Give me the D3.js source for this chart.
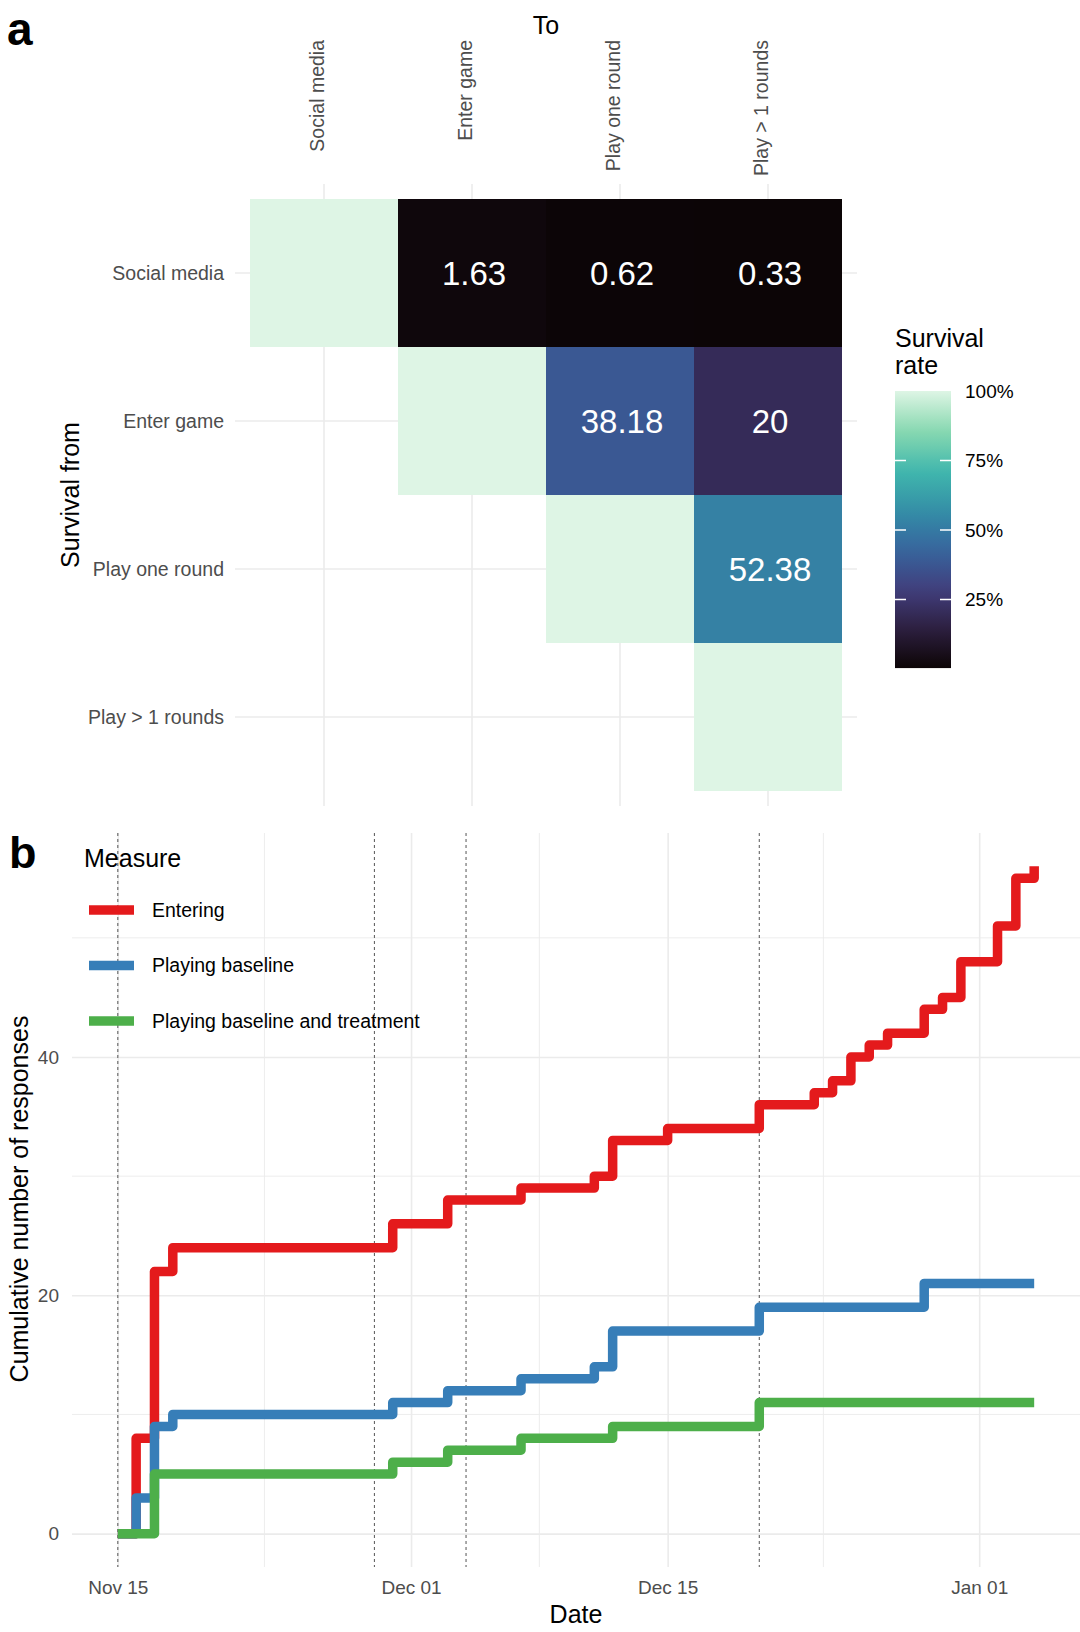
<!DOCTYPE html>
<html>
<head>
<meta charset="utf-8">
<script src="https://cdn.jsdelivr.net/npm/d3@7"></script>
<style>
   body { margin: 0; background: #fff; }
   text { font-family: "Liberation Sans", Arial, sans-serif; }
</style>
</head>
<body>
<div id="chart"></div>
<script>
// Panel a: survival between funnel stages
const stages = ["Social media", "Enter game", "Play one round", "Play > 1 rounds"];
const tileFrom = ["Social media", "Social media", "Social media", "Social media",
   "Enter game", "Enter game", "Enter game",
   "Play one round", "Play one round",
   "Play > 1 rounds"];
const tileTo = ["Social media", "Enter game", "Play one round", "Play > 1 rounds",
   "Enter game", "Play one round", "Play > 1 rounds",
   "Play one round", "Play > 1 rounds",
   "Play > 1 rounds"];
const tileRate = [100, 1.63, 0.62, 0.33, 100, 38.18, 20, 100, 52.38, 100];
const legendTicks = [25, 50, 75, 100];

// mako palette stops
const makoStops = [0, 14, 28, 43, 57, 71, 86, 100];
const makoColors = ["#0B0405", "#2C1E3D", "#413D7B", "#37659E", "#348FA7", "#40B7AD", "#8AD9B1", "#DEF5E5"];

// Panel b: cumulative responses
const stepDates = ["2019-11-15", "2019-11-16", "2019-11-17", "2019-11-18", "2019-11-30", "2019-12-03",
   "2019-12-07", "2019-12-11", "2019-12-12", "2019-12-15", "2019-12-20", "2019-12-23", "2019-12-24",
   "2019-12-25", "2019-12-26", "2019-12-27", "2019-12-29", "2019-12-30", "2019-12-31", "2020-01-02",
   "2020-01-03", "2020-01-04"];
const entering = [0, 8, 22, 24, 26, 28, 29, 30, 33, 34, 36, 37, 38, 40, 41, 42, 44, 45, 48, 51, 55, 56];
const playingBaseline = [0, 3, 9, 10, 11, 12, 13, 14, 17, 17, 19, 19, 19, 19, 19, 19, 21, 21, 21, 21, 21, 21];
const playingBoth = [0, 0, 5, 5, 6, 7, 8, 8, 9, 9, 11, 11, 11, 11, 11, 11, 11, 11, 11, 11, 11, 11];
const measureNames = ["Entering", "Playing baseline", "Playing baseline and treatment"];
const measureColors = ["#E41A1C", "#377EB8", "#4DAF4A"];
const phaseDates = ["2019-11-15", "2019-11-29", "2019-12-04", "2019-12-20"];
const xTickDates = ["2019-11-15", "2019-12-01", "2019-12-15", "2020-01-01"];
const xMinorDates = ["2019-11-23", "2019-12-08", "2019-12-23 12"];
const yTicks = [0, 20, 40];
const yMinor = [10, 30, 50];

const svg = d3.select("#chart")
   .append("svg")
   .attr("width", 1080)
   .attr("height", 1632);

const grid = "#EBEBEB";
const tickGrey = "#4D4D4D";

// ---------- panel a ----------
const hx = d3.scaleBand().domain(stages).range([250, 842]);
const hy = d3.scaleBand().domain(stages).range([199, 791]);
const color = d3.scaleLinear().domain(makoStops).range(makoColors);

svg.selectAll(".hgrid-v")
   .data(stages)
   .enter()
   .append("line")
   .attr("x1", d => hx(d) + hx.bandwidth() / 2)
   .attr("x2", d => hx(d) + hx.bandwidth() / 2)
   .attr("y1", 184)
   .attr("y2", 806)
   .attr("stroke", grid)
   .attr("stroke-width", 1.6);

svg.selectAll(".hgrid-h")
   .data(stages)
   .enter()
   .append("line")
   .attr("y1", d => hy(d) + hy.bandwidth() / 2)
   .attr("y2", d => hy(d) + hy.bandwidth() / 2)
   .attr("x1", 235)
   .attr("x2", 857)
   .attr("stroke", grid)
   .attr("stroke-width", 1.6);

const tiles = tileRate.map((v, i) => ({ from: tileFrom[i], to: tileTo[i], v }));

svg.selectAll(".tile")
   .data(tiles)
   .enter()
   .append("rect")
   .attr("x", d => hx(d.to))
   .attr("y", d => hy(d.from))
   .attr("width", hx.bandwidth())
   .attr("height", hy.bandwidth())
   .attr("fill", d => color(d.v));

svg.selectAll(".tile-label")
   .data(tiles.filter(d => d.v < 100))
   .enter()
   .append("text")
   .attr("x", d => hx(d.to) + hx.bandwidth() / 2 + 2)
   .attr("y", d => hy(d.from) + hy.bandwidth() / 2)
   .attr("dy", "0.36em")
   .attr("text-anchor", "middle")
   .attr("fill", "#fff")
   .attr("font-size", 33)
   .text(d => d.v);

// column labels on top, rotated
svg.selectAll(".col-label")
   .data(stages)
   .enter()
   .append("text")
   .attr("transform", d => `translate(${hx(d) + hx.bandwidth() / 2},40) rotate(-90)`)
   .attr("text-anchor", "end")
   .attr("fill", tickGrey)
   .attr("font-size", 19.5)
   .text(d => d);

svg.selectAll(".row-label")
   .data(stages)
   .enter()
   .append("text")
   .attr("x", 224)
   .attr("y", d => hy(d) + hy.bandwidth() / 2)
   .attr("dy", "0.35em")
   .attr("text-anchor", "end")
   .attr("fill", tickGrey)
   .attr("font-size", 19.5)
   .text(d => d);

svg.append("text")
   .attr("x", 546)
   .attr("y", 34)
   .attr("text-anchor", "middle")
   .attr("font-size", 25)
   .text("To");

svg.append("text")
   .attr("transform", "translate(79,495) rotate(-90)")
   .attr("text-anchor", "middle")
   .attr("font-size", 25)
   .text("Survival from");

svg.append("text")
   .attr("x", 7)
   .attr("y", 45)
   .attr("font-size", 46)
   .attr("font-weight", "bold")
   .text("a");

// colour bar legend
const ly = d3.scaleLinear().domain([0, 100]).range([669, 391]);
const grad = svg.append("defs")
   .append("linearGradient")
   .attr("id", "mako")
   .attr("x1", 0).attr("x2", 0)
   .attr("y1", 1).attr("y2", 0);
d3.range(0, 101, 5).forEach(p => {
   grad.append("stop")
      .attr("offset", p / 100)
      .attr("stop-color", color(0.33 + (100 - 0.33) * p / 100));
});

svg.append("text")
   .attr("x", 895)
   .attr("font-size", 25)
   .selectAll("tspan")
   .data(["Survival", "rate"])
   .enter()
   .append("tspan")
   .attr("x", 895)
   .attr("y", (d, i) => 347 + i * 27)
   .text(d => d);

svg.append("rect")
   .attr("x", 895)
   .attr("y", ly(100))
   .attr("width", 56)
   .attr("height", ly(0.33) - ly(100))
   .attr("fill", "url(#mako)");

svg.selectAll(".leg-tick")
   .data(legendTicks.filter(d => d < 100))
   .enter()
   .append("path")
   .attr("d", d => `M895,${ly(d)}h11M940,${ly(d)}h11`)
   .attr("stroke", "#fff")
   .attr("stroke-width", 1.3);

svg.selectAll(".leg-label")
   .data(legendTicks)
   .enter()
   .append("text")
   .attr("x", 965)
   .attr("y", d => ly(d))
   .attr("dy", "0.35em")
   .attr("font-size", 19)
   .text(d => d + "%");

// ---------- panel b ----------
const parse = d3.utcParse("%Y-%m-%d");
const parseH = d3.utcParse("%Y-%m-%d %H");
const dates = stepDates.map(parse);
const day = 864e5;

const x = d3.scaleUtc()
   .domain([new Date(+dates[0] - 2.5 * day), new Date(+dates[dates.length - 1] + 2.5 * day)])
   .range([72, 1080]);

const y = d3.scaleLinear()
   .domain([-2.8, 58.8])
   .range([1567, 833]);

const minorX = xMinorDates.map(d => parse(d) || parseH(d));

svg.selectAll(".xminor")
   .data(minorX)
   .enter()
   .append("line")
   .attr("x1", d => x(d)).attr("x2", d => x(d))
   .attr("y1", 833).attr("y2", 1567)
   .attr("stroke", grid)
   .attr("stroke-width", 0.9);

svg.selectAll(".yminor")
   .data(yMinor)
   .enter()
   .append("line")
   .attr("y1", d => y(d)).attr("y2", d => y(d))
   .attr("x1", 72).attr("x2", 1080)
   .attr("stroke", grid)
   .attr("stroke-width", 0.9);

const xAxis = svg.append("g")
   .attr("transform", "translate(0,1567)")
   .call(d3.axisBottom(x)
      .tickValues(xTickDates.map(parse))
      .tickFormat(d3.utcFormat("%b %d"))
      .tickSize(-734)
      .tickPadding(14));
xAxis.select(".domain").remove();
xAxis.selectAll("line").attr("stroke", grid).attr("stroke-width", 1.6);
xAxis.selectAll("text")
   .attr("fill", tickGrey)
   .attr("font-size", 19)
   .attr("font-family", "Liberation Sans, Arial, sans-serif");

const yAxis = svg.append("g")
   .attr("transform", "translate(72,0)")
   .call(d3.axisLeft(y)
      .tickValues(yTicks)
      .tickSize(-1008)
      .tickPadding(13));
yAxis.select(".domain").remove();
yAxis.selectAll("line").attr("stroke", grid).attr("stroke-width", 1.6);
yAxis.selectAll("text")
   .attr("fill", tickGrey)
   .attr("font-size", 19)
   .attr("font-family", "Liberation Sans, Arial, sans-serif");

// phase markers
svg.selectAll(".phase")
   .data(phaseDates.map(parse))
   .enter()
   .append("line")
   .attr("x1", d => x(d)).attr("x2", d => x(d))
   .attr("y1", 833).attr("y2", 1567)
   .attr("stroke", "#555")
   .attr("stroke-width", 1)
   .attr("stroke-dasharray", "3,3");

const step = d3.line()
   .x((d, i) => x(dates[i]))
   .y(d => y(d))
   .curve(d3.curveStepAfter);

[entering, playingBaseline, playingBoth].forEach((series, k) => {
   svg.append("path")
      .datum(series)
      .attr("fill", "none")
      .attr("stroke", measureColors[k])
      .attr("stroke-width", 9.5)
      .attr("stroke-linejoin", "round")
      .attr("d", step);
});

// legend
svg.append("text")
   .attr("x", 84)
   .attr("y", 867)
   .attr("font-size", 25)
   .text("Measure");

const leg = svg.selectAll(".leg")
   .data(measureNames)
   .enter()
   .append("g")
   .attr("transform", (d, i) => `translate(0,${910 + i * 55.5})`);

leg.append("line")
   .attr("x1", 89).attr("x2", 134)
   .attr("stroke", (d, i) => measureColors[i])
   .attr("stroke-width", 9.5);

leg.append("text")
   .attr("x", 152)
   .attr("dy", "0.35em")
   .attr("font-size", 19.5)
   .text(d => d);

svg.append("text")
   .attr("x", 576)
   .attr("y", 1623)
   .attr("text-anchor", "middle")
   .attr("font-size", 25)
   .text("Date");

svg.append("text")
   .attr("transform", "translate(28,1199) rotate(-90)")
   .attr("text-anchor", "middle")
   .attr("font-size", 25)
   .text("Cumulative number of responses");

svg.append("text")
   .attr("x", 9)
   .attr("y", 868)
   .attr("font-size", 45)
   .attr("font-weight", "bold")
   .text("b");
</script>
</body>
</html>
